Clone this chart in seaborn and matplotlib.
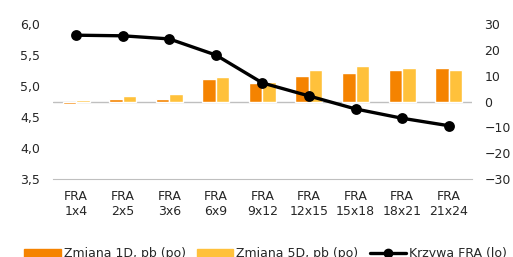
import pandas as pd
import matplotlib
matplotlib.use("Agg")
import matplotlib.pyplot as plt
import seaborn as sns
from matplotlib.patches import Patch
from matplotlib.lines import Line2D
from matplotlib.ticker import FuncFormatter

tenors = ['FRA\n1x4', 'FRA\n2x5', 'FRA\n3x6', 'FRA\n6x9', 'FRA\n9x12',
          'FRA\n12x15', 'FRA\n15x18', 'FRA\n18x21', 'FRA\n21x24']
change_1d = [-1.0, 0.8, 0.8, 8.6, 7.1, 9.8, 11.0, 12.1, 12.8]
change_5d = [0.5, 2.0, 3.0, 9.3, 7.6, 12.1, 13.8, 12.8, 12.1]
fra_curve = [5.82, 5.81, 5.76, 5.50, 5.05, 4.84, 4.63, 4.48, 4.36]

label_1d = 'Zmiana 1D, pb (po)'
label_5d = 'Zmiana 5D, pb (po)'
label_curve = 'Krzywa FRA (lo)'
c_1d = '#F58300'
c_5d = '#FFC13B'

bars = pd.DataFrame({
    'tenor': tenors * 2,
    'value': change_1d + change_5d,
    'series': [label_1d] * len(tenors) + [label_5d] * len(tenors),
})

sns.set_style('white')
plt.rcParams['font.family'] = ['DejaVu Sans']

fig = plt.figure(figsize=(5.13, 2.57), dpi=100)
ax = fig.add_axes([0.103, 0.3035, 0.817, 0.603])
ax2 = ax.twinx()

# bars on the right axis
sns.barplot(data=bars, x='tenor', y='value', hue='series', order=tenors,
            palette=[c_1d, c_5d], width=0.58, saturation=1, ax=ax2, legend=False)
ax2.axhline(0, color='#BFBFBF', lw=1, zorder=0)
ax2.set_ylim(-30, 30)
ax2.set_yticks(range(-30, 31, 10))

# line on the left axis, drawn above the bars
sns.pointplot(x=tenors, y=fra_curve, color='black', markers='o',
              markersize=6, linewidth=2.4, ax=ax)
ax.set_ylim(3.5, 6.0)
ax.set_yticks([3.5, 4.0, 4.5, 5.0, 5.5, 6.0])
ax.yaxis.set_major_formatter(FuncFormatter(lambda v, p: f'{v:.1f}'.replace('.', ',')))
ax.set_zorder(ax2.get_zorder() + 1)
ax.patch.set_visible(False)
for line in ax.lines:
    line.set_clip_on(False)

ax.set_xlim(-0.5, len(tenors) - 0.5)
for a in (ax, ax2):
    a.set_xlabel('')
    a.set_ylabel('')
    for s in a.spines.values():
        s.set_visible(False)
    a.tick_params(length=0, labelsize=9, colors='#262626')
ax.spines['bottom'].set_visible(True)
ax.spines['bottom'].set_color('#BFBFBF')
ax.tick_params(axis='y', pad=9)
ax2.tick_params(axis='y', pad=9)
ax.tick_params(axis='x', pad=8)

handles = [Patch(color=c_1d, label=label_1d),
           Patch(color=c_5d, label=label_5d),
           Line2D([], [], color='black', lw=2.4, marker='o', markersize=6, label=label_curve)]
fig.legend(handles=handles, loc='center', bbox_to_anchor=(0.518, 0.012), ncol=3,
           frameon=False, fontsize=9, handlelength=2.9, handletextpad=0.25,
           columnspacing=0.9)

fig.savefig('out.png', dpi=100)
